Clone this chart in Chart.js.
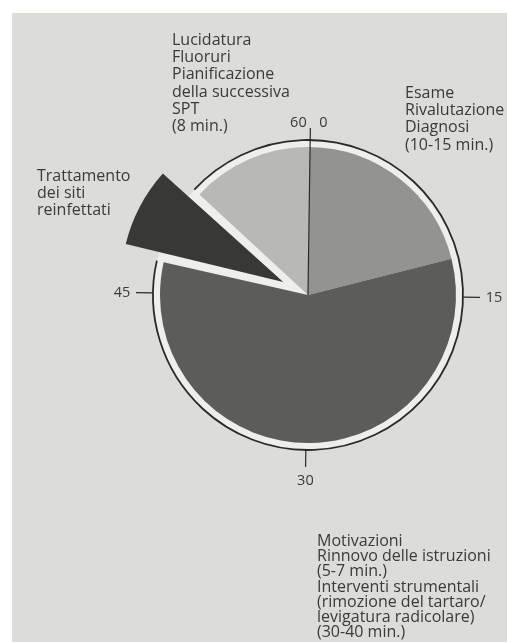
<!DOCTYPE html>
<html>
<head>
<meta charset="utf-8">
<script src="https://cdn.jsdelivr.net/npm/chart.js@4/dist/chart.umd.min.js"></script>
<style>
  html, body { margin:0; padding:0; background:#ffffff; }
  #page { position:absolute; left:12px; top:13px; width:495px; height:629px; background:#dcdcd8; }
  #wrap { position:absolute; left:0; top:0; width:507px; height:642px; }
  .lbl { position:absolute; font-family:"Open Sans", sans-serif; font-size:16px; line-height:17.2px; color:#3a3a3a; white-space:nowrap; }
</style>
</head>
<body>
<div id="page"></div>
<div id="wrap"><canvas id="c" width="507" height="642"></canvas></div>
<div class="lbl" id="lblTop" style="left:172px; top:31px;"></div>
<div class="lbl" id="lblRight" style="left:405px; top:84px;"></div>
<div class="lbl" id="lblLeft" style="left:37px; top:167px;"></div>
<div class="lbl" id="lblBottom" style="left:317px; top:533px; line-height:15.2px;"></div>
<script>
// ---- data (minutes of a 60-minute session) ----
const categories = ["Esame / Rivalutazione / Diagnosi", "Motivazioni / Istruzioni / Interventi strumentali", "Trattamento dei siti reinfettati", "Lucidatura / Fluoruri / Pianificazione"];
const minutes = [12.5, 34.5, 5, 8];
const explodedIndex = [2];
const tickValues = [15, 30, 45];
const tickLabels = ["15", "30", "45"];
const topTickLabels = ["60", "0"];

const labelTop = ["Lucidatura", "Fluoruri", "Pianificazione", "della successiva", "SPT", "(8 min.)"];
const labelRight = ["Esame", "Rivalutazione", "Diagnosi", "(10-15 min.)"];
const labelLeft = ["Trattamento", "dei siti", "reinfettati"];
const labelBottom = ["Motivazioni", "Rinnovo delle istruzioni", "(5-7 min.)", "Interventi strumentali", "(rimozione del tartaro/", "levigatura radicolare)", "(30-40 min.)"];

function fill(id, lines){ const el=document.getElementById(id); lines.forEach((t,i)=>{ if(i) el.appendChild(document.createElement('br')); el.appendChild(document.createTextNode(t)); }); }
fill('lblTop', labelTop); fill('lblRight', labelRight); fill('lblLeft', labelLeft); fill('lblBottom', labelBottom);

const ROT = 0.8;          // degrees
const TOTAL = 60;
const SLICE_R = 148;
const RING_R = 155;

function angOf(m){ return (ROT + m / TOTAL * 360 - 90) * Math.PI / 180; }

const ringPlugin = {
  id: 'ring',
  beforeDatasetsDraw(chart){
    const arc = chart.getDatasetMeta(0).data[0];
    const cx = arc.x, cy = arc.y, ctx = chart.ctx;
    ctx.save();
    ctx.fillStyle = '#eeeeec';
    ctx.beginPath(); ctx.arc(cx, cy, RING_R, 0, Math.PI*2); ctx.fill();
    const cum = [0]; minutes.forEach(v=>cum.push(cum[cum.length-1]+v));
    const ei = explodedIndex[0];
    ctx.strokeStyle = '#2a2a2a'; ctx.lineWidth = 1.8;
    ctx.beginPath(); ctx.arc(cx, cy, RING_R, angOf(cum[ei+1]), angOf(cum[ei] + TOTAL)); ctx.stroke();
    ctx.restore();
  },
  afterDatasetsDraw(chart){
    const arc = chart.getDatasetMeta(0).data[0];
    const cx = arc.x, cy = arc.y, ctx = chart.ctx;
    ctx.save();
    ctx.strokeStyle = '#2a2a2a'; ctx.lineWidth = 1.2;
    const a0 = angOf(0);
    ctx.beginPath(); ctx.moveTo(cx, cy); ctx.lineTo(cx + Math.cos(a0)*167, cy + Math.sin(a0)*167); ctx.stroke();
    ctx.font = '14.5px "Open Sans", sans-serif'; ctx.fillStyle = '#3a3a3a';
    ctx.textAlign = 'center'; ctx.textBaseline = 'middle';
    const tx = cx + Math.cos(a0)*172, ty = cy + Math.sin(a0)*172;
    ctx.fillText(topTickLabels[0], tx - 12, ty);
    ctx.fillText(topTickLabels[1], tx + 13, ty);
    tickValues.forEach((v,i)=>{
      const a = angOf(v);
      ctx.beginPath();
      ctx.moveTo(cx + Math.cos(a)*RING_R, cy + Math.sin(a)*RING_R);
      ctx.lineTo(cx + Math.cos(a)*172, cy + Math.sin(a)*172);
      ctx.stroke();
      ctx.fillText(tickLabels[i], cx + Math.cos(a)*186, cy + Math.sin(a)*186);
    });
    ctx.restore();
  }
};

new Chart(document.getElementById('c'), {
  type: 'pie',
  data: {
    labels: categories,
    datasets: [{
      data: minutes,
      backgroundColor: ['#939392', '#5c5c5a', '#383837', '#b8b8b4'],
      borderWidth: 0,
      offset: minutes.map((v,i)=> explodedIndex.includes(i) ? 112 : 0)
    }]
  },
  options: {
    responsive: false,
    animation: false,
    events: [],
    rotation: ROT,
    radius: SLICE_R,
    layout: { padding: { left: 109, right: 0, top: 0, bottom: 52 } },
    plugins: { legend: { display: false }, tooltip: { enabled: false } }
  },
  plugins: [ringPlugin]
});
</script>
</body>
</html>
